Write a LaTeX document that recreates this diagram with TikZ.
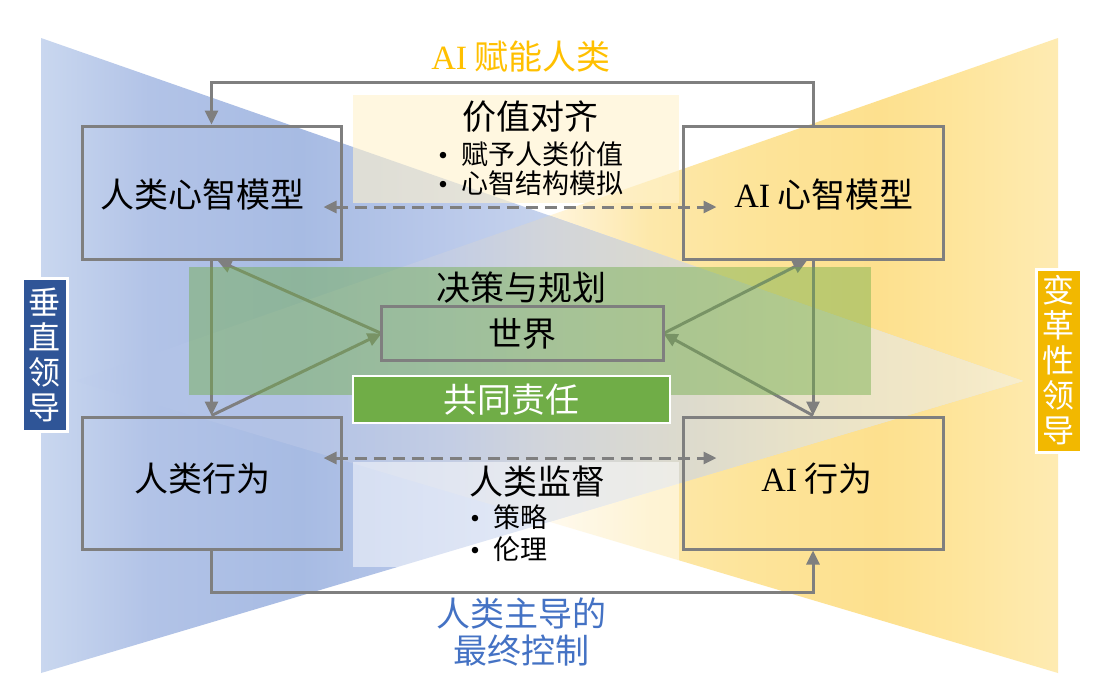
\documentclass[tikz,border=0pt]{standalone}
\usepackage{fontspec}
\setmainfont{Liberation Serif}
\newfontfamily\cjk{Noto Sans CJK SC}
\usetikzlibrary{fit,arrows.meta,calc}

\definecolor{lineg}{RGB}{127,127,127}
\definecolor{dblue}{RGB}{47,85,151}
\definecolor{goldbox}{RGB}{242,184,0}
\definecolor{goldtxt}{RGB}{255,192,0}
\definecolor{bluetxt}{RGB}{68,114,196}
\definecolor{ggreen}{RGB}{112,173,71}
\definecolor{panelY}{RGB}{255,242,204}

% blue triangle stops
\definecolor{bA}{RGB}{201,215,239}
\definecolor{bB}{RGB}{178,195,231}
\definecolor{bC}{RGB}{167,187,227}
\definecolor{bD}{RGB}{186,201,234}
\definecolor{bE}{RGB}{198,211,237}
\definecolor{bF}{RGB}{230,235,245}
% yellow triangle stops
\definecolor{yA}{RGB}{255,255,255}
\definecolor{yB}{RGB}{255,250,235}
\definecolor{yC}{RGB}{255,245,220}
\definecolor{yD}{RGB}{254,238,195}
\definecolor{yE}{RGB}{253,232,170}
\definecolor{yF}{RGB}{253,228,154}
\definecolor{yG}{RGB}{253,224,142}
\definecolor{yH}{RGB}{254,229,156}
\definecolor{yI}{RGB}{254,235,178}
% overlap stops
\definecolor{dA}{RGB}{192,207,236}
\definecolor{dB}{RGB}{178,195,231}
\definecolor{dC}{RGB}{178,194,229}
\definecolor{dD}{RGB}{195,205,228}
\definecolor{dE}{RGB}{210,213,218}
\definecolor{dF}{RGB}{220,218,205}
\definecolor{dG}{RGB}{232,226,200}
\definecolor{dH}{RGB}{243,232,198}
\definecolor{dI}{RGB}{248,238,205}

\pgfdeclarehorizontalshading{blueS}{100bp}{color(0bp)=(bA); color(25bp)=(bA); color(30.5bp)=(bB); color(38.2bp)=(bC); color(45.8bp)=(bD); color(50.9bp)=(bE); color(75bp)=(bF); color(100bp)=(bF)}
\pgfdeclarehorizontalshading{yellowS}{100bp}{color(0bp)=(yA); color(25bp)=(yA); color(44bp)=(yB); color(49.1bp)=(yC); color(51.7bp)=(yD); color(54.2bp)=(yE); color(59.3bp)=(yF); color(65.9bp)=(yG); color(70bp)=(yH); color(75bp)=(yI); color(100bp)=(yI)}
\pgfdeclarehorizontalshading{diamS}{100bp}{color(0bp)=(dA); color(25bp)=(dA); color(28.9bp)=(dB); color(36.8bp)=(dC); color(44.7bp)=(dD); color(50bp)=(dE); color(57bp)=(dF); color(63.2bp)=(dG); color(71.1bp)=(dH); color(75bp)=(dI); color(100bp)=(dI)}

\begin{document}
\begin{tikzpicture}[x=0.5pt,y=-0.5pt,
  gbox/.style={draw=lineg, line width=1.5pt, inner sep=0pt},
  conn/.style={draw=lineg, line width=1.5pt, -{Triangle[length=7pt,width=6.5pt]}},
  dconn/.style={draw=lineg, line width=1.5pt, dash pattern=on 6pt off 3.5pt,
     {Triangle[length=6.5pt,width=6pt]}-{Triangle[length=6.5pt,width=6pt]}},
  big/.style={inner sep=0pt, font=\fontsize{17}{20}\selectfont\cjk},
  small/.style={inner sep=0pt, anchor=west, font=\fontsize{13.5}{16}\selectfont\cjk},
  side/.style={inner sep=0pt, text=white, align=center, font=\fontsize{16}{17.5}\selectfont\cjk}
]
\useasboundingbox (0,0) rectangle (1108,692);
\fill[white] (0,0) rectangle (1108,692);

% background triangles
\shade[shading=yellowS] (1058,38) -- (1058,673) -- (76,381) -- cycle;
\shade[shading=blueS] (41,38) -- (41,673) -- (1023,381) -- cycle;
\shade[shading=diamS] (76,381) -- (549.5,215.6) -- (1023,381) -- (549.5,521.8) -- cycle;

% panels
\node[inner sep=0pt, fill=panelY, fill opacity=0.6, fit={(353,95) (679,203)}] (pv) {};
\node[inner sep=0pt, fill=white, fill opacity=0.5, fit={(353,462) (679,567)}] (ps) {};

% boxes
\node[gbox, fit={(82,126) (341,259)}] (hm) {};
\node[gbox, fit={(683,126) (943,259)}] (am) {};
\node[gbox, fit={(82,417) (341,549)}] (hb) {};
\node[gbox, fit={(683,417) (943,549)}] (ab) {};
\node[inner sep=0pt, fit={(382,307) (663,360)}] (world) {};

% connectors
\draw[conn] (am.north) -- ++(0,-42) -| (hm.north);
\draw[conn] (hb.south) -- ++(0,42) -| (ab.south);
\draw[conn] (hm.south) -- (hb.north);
\draw[conn] (am.south) -- (ab.north);
\draw[conn] (hb.north) -- (world.west);
\draw[conn] (world.west) -- ([xshift=3pt]hm.south);
\draw[conn] (ab.north) -- (world.east);
\draw[conn] (world.east) -- ([xshift=-3pt]am.south);

\coordinate (dl1) at ($(hm.east)+(-19,14.5)$);
\coordinate (dr1) at ($(am.west)+(35,14.5)$);
\coordinate (dl2) at ($(hb.east)+(-19,-25)$);
\coordinate (dr2) at ($(ab.west)+(35,-25)$);
\draw[dconn] (dl1) -- (dr1);
\draw[dconn] (dl2) -- (dr2);

% green panel
\node[inner sep=0pt, fill=ggreen, fill opacity=0.45, fit={(189,267) (871,395)}] (gp) {};
\draw[lineg, line width=1.5pt] (world.north west) rectangle (world.south east);
\node[inner sep=0pt, fill=ggreen, draw=white, line width=1pt, fit={(353,376) (670,423)}] (resp) {};

% texts
\node[big] (t1) at (202,195) {人类心智模型};
\node[big] (t2) at (824,195) {{\rmfamily AI} 心智模型};
\node[big] (t3) at (202,479) {人类行为};
\node[big] (t4) at (817,479) {{\rmfamily AI} 行为};
\node[big] (t5) at (521,288) {决策与规划};
\node[big] (t6) at (world.center) {世界};
\node[big, text=white] (t7) at (resp.center) {共同责任};
\node[big] (t8) at (530,117) {价值对齐};
\node[small] (t9) at (438,154) {{\rmfamily\textbullet}\hspace{7pt}赋予人类价值};
\node[small] (t10) at (438,183) {{\rmfamily\textbullet}\hspace{7pt}心智结构模拟};
\node[big] (t11) at (537,482) {人类监督};
\node[small] (t12) at (470,517) {{\rmfamily\textbullet}\hspace{7pt}策略};
\node[small] (t13) at (470,549) {{\rmfamily\textbullet}\hspace{7pt}伦理};
\node[big, text=goldtxt] (t14) at (521,57) {{\rmfamily AI} 赋能人类};
\node[big, text=bluetxt, align=center, font=\fontsize{17}{18.5}\selectfont\cjk] (t15) at (521,632) {人类主导的\\最终控制};

% side labels
\node[inner sep=0pt, fill=dblue, draw=white, line width=1.5pt, fit={(22,278) (67,431)}] (vl) {};
\node[side] (vlt) at (vl.center) {垂\\直\\领\\导};
\node[inner sep=0pt, fill=goldbox, draw=white, line width=1.5pt, fit={(1036,269) (1081,452)}] (tl) {};
\node[side] (tlt) at (tl.center) {变\\革\\性\\领\\导};
\end{tikzpicture}
\end{document}
